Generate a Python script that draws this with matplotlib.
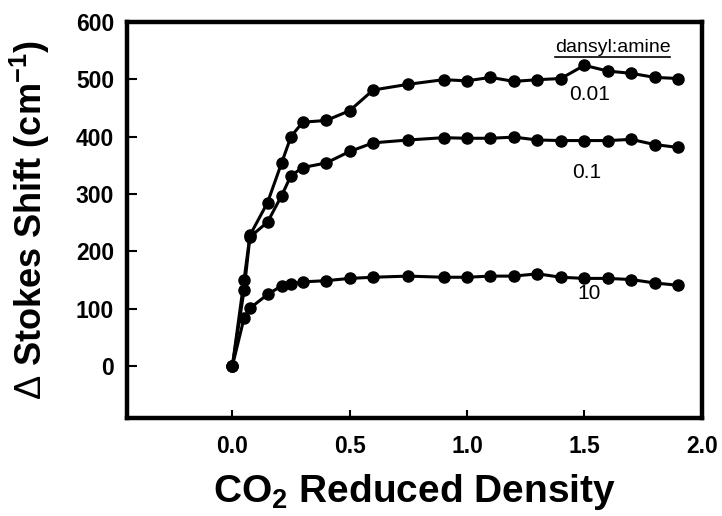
import matplotlib
matplotlib.use("Agg")
import matplotlib.pyplot as plt
from matplotlib.lines import Line2D

# reduced density of CO2 (same grid for every ratio)
density = [0, 0.05, 0.075, 0.15, 0.21, 0.25, 0.3, 0.4, 0.5, 0.6, 0.75,
           0.9, 1.0, 1.1, 1.2, 1.3, 1.4, 1.5, 1.6, 1.7, 1.8, 1.9]

# stokes shift (cm-1) for each dansyl:amine ratio
shift_001 = [0, 150, 228, 285, 354, 400, 425, 428, 445, 481, 491,
             499, 497, 503, 496, 499, 501, 524, 514, 510, 503, 501]
shift_01 = [0, 132, 225, 251, 297, 332, 346, 354, 374, 389, 394,
            398, 397, 397, 399, 394, 393, 393, 393, 395, 386, 381]
shift_10 = [0, 84, 101, 125, 140, 143, 147, 149, 153, 155, 157,
            155, 155, 157, 157, 161, 155, 153, 153, 151, 145, 141]

series = [(shift_001, "0.01", (1.523, 474)),
          (shift_01, "0.1", (1.511, 338)),
          (shift_10, "10", (1.52, 126))]

xticks = [0.0, 0.5, 1.0, 1.5, 2.0]
yticks = [0, 100, 200, 300, 400, 500, 600]

plt.rcParams['font.family'] = ['Liberation Sans', 'DejaVu Sans']
plt.rcParams['mathtext.fontset'] = 'custom'
plt.rcParams['mathtext.rm'] = 'Liberation Sans:bold'
plt.rcParams['mathtext.sf'] = 'Liberation Sans'
plt.rcParams['mathtext.default'] = 'rm'

fig = plt.figure(figsize=(7.22, 5.16), dpi=100)
ax = fig.add_axes([0.1755, 0.19, 0.7964, 0.768])

for ys, lab, pos in series:
    ax.plot(density, ys, color='black', lw=2.2, marker='o', ms=8,
            mfc='black', mec='black', zorder=3, clip_on=False)
    ax.text(pos[0], pos[1], lab, fontsize=15, ha='center', va='center')

legend_title = ax.text(1.62, 555, 'dansyl:amine', fontsize=14,
                       ha='center', va='center')

ax.set_xlim(-0.45, 2.0)
ax.set_ylim(-90, 600)
ax.set_xticks(xticks)
ax.set_yticks(yticks)
ax.set_xticklabels(['%.1f' % t for t in xticks])
ax.set_yticklabels([str(t) for t in yticks])

for sp in ax.spines.values():
    sp.set_linewidth(3.2)

ax.tick_params(axis='both', direction='in', width=1.5, labelsize=16.5,
               top=False, right=False)
ax.tick_params(axis='x', length=6, pad=12)
ax.tick_params(axis='y', length=7, pad=9)
for t in ax.get_xticklabels() + ax.get_yticklabels():
    t.set_fontweight('bold')

ax.set_xlabel(r'CO$_{2}$ Reduced Density', fontsize=28, fontweight='bold',
              labelpad=10)
ax.set_ylabel(r'$\mathsf{\Delta}$ Stokes Shift (cm$^{-1}$)', fontsize=26,
              fontweight='bold')
ax.yaxis.set_label_coords(-0.13, 0.5)

# underline the legend heading
fig.canvas.draw()
bb = legend_title.get_window_extent().transformed(fig.transFigure.inverted())
fig.add_artist(Line2D([bb.x0, bb.x1], [bb.y0 - 0.002, bb.y0 - 0.002],
                      transform=fig.transFigure, color='black', lw=1.2))

fig.savefig('out.png', dpi=100)
